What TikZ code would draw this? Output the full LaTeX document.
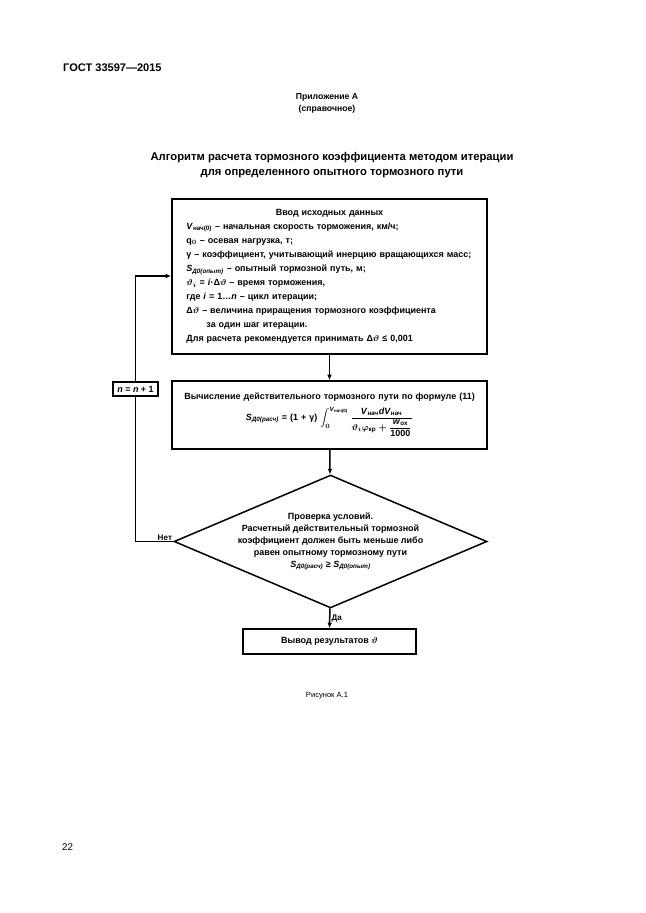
\documentclass[tikz,border=0pt]{standalone}
\usepackage{fontspec}
\setmainfont{Liberation Sans}
\usepackage{amsmath}
\usetikzlibrary{shapes.geometric,arrows.meta,positioning}

\begin{document}
\begin{tikzpicture}[
    x=0.325mm, y=-0.325mm,
    block/.style={rectangle, draw, line width=1.4pt, align=left, inner sep=0pt, font=\fontsize{8.3}{13}\selectfont\bfseries\boldmath},
    decision/.style={diamond, draw, line width=1.4pt, minimum width=101.7mm, minimum height=43.2mm, inner sep=0pt},
    line/.style={line width=1.4pt},
    arrow/.style={line, -{Latex[length=1.8mm,width=1.5mm]}},
    tag/.style={font=\fontsize{7.5}{9}\selectfont\bfseries, inner sep=1pt}
]
\useasboundingbox (0,0) rectangle (646,913);

% Page header
\node[anchor=west, inner sep=0pt, font=\fontsize{10.2}{12}\selectfont\bfseries] (gost) at (63,68) {ГОСТ 33597—2015};
\node[align=center, font=\fontsize{8}{11}\selectfont\bfseries] (annex) at (327,103) {Приложение А\\(справочное)};
\node[align=center, font=\fontsize{10.4}{13.5}\selectfont\bfseries] (title) at (332,165) {Алгоритм расчета тормозного коэффициента методом итерации\\для определенного опытного тормозного пути};

% Input data
\node[block, text width=93mm, minimum height=50.4mm, inner xsep=4.7mm] (input) at (329.5,276.5) {%
\makebox[\linewidth]{Ввод исходных данных}\\
\textit{V}$_{\text{нач(0)}}$ – начальная скорость торможения, км/ч;\\
q$_0$ – осевая нагрузка, т;\\
γ – коэффициент, учитывающий инерцию вращающихся масс;\\
\textit{S}$_{\text{\textit{Д0(опыт)}}}$ – опытный тормозной путь, м;\\
$\vartheta_i$ = \textit{i}·Δ$\vartheta$ – время торможения,\\
где \textit{i} = 1…\textit{n} – цикл итерации;\\
Δ$\vartheta$ – величина приращения тормозного коэффициента\\
\hspace*{6.5mm}за один шаг итерации.\\
Для расчета рекомендуется принимать Δ$\vartheta$ ≤ 0,001};

% Calculation
\node[block, align=center, text width=102.4mm, minimum height=22.1mm] (calc) at (329.5,415) {%
Вычисление действительного тормозного пути по формуле (11)\\[4pt]
\textit{S}$_{\text{\textit{Д0(расч)}}}$ = (1 + γ)
$\displaystyle\int\nolimits_0^{\text{\textit{V}}_{\text{нач(0)}}}\frac{\text{\textit{V}}_{\text{нач}}\text{\textit{dV}}_{\text{нач}}}{\vartheta_i\varphi_{\text{кр}}+\dfrac{\text{\textit{w}}_{\text{ох}}}{\text{1000}}}$};

% Check
\node[decision] (check) at (330.5,541.5) {};
\node[align=center, inner sep=0pt, font=\fontsize{8.3}{11}\selectfont\bfseries\boldmath] (checktext) at (check.center) {Проверка условий.\\
Расчетный действительный тормозной\\
коэффициент должен быть меньше либо\\
равен опытному тормозному пути\\
\textit{S}$_{\text{\textit{Д0(расч)}}}$ ≥ \textit{S}$_{\text{\textit{Д0(опыт)}}}$};

% Output and loop
\node[block, align=center, minimum width=56.2mm, minimum height=8.1mm] (output) at (329.5,641.5) {Вывод результатов $\vartheta$};
\node[block, align=center, minimum width=14.6mm, minimum height=4.6mm, fill=white] (incr) at (135.5,389) {\textit{n} = \textit{n} + 1};
\coordinate (back) at (input.west |- 0,276);

\draw[arrow] (input) -- (calc);
\draw[arrow] (calc) -- (check);
\draw[arrow] (check) -- node[tag, right] (yes) {Да} (output);
\draw[line] (check.west) -| (incr.south);
\draw[arrow] (incr.north) |- (back);
\node[tag, above left] (no) at (check.west) {Нет};

% Caption and page number
\node[font=\fontsize{7}{9}\selectfont] (caption) at (327,696) {Рисунок А.1};
\node[anchor=west, inner sep=0pt, font=\fontsize{9}{11}\selectfont] (page) at (62,847) {22};
\end{tikzpicture}
\end{document}
